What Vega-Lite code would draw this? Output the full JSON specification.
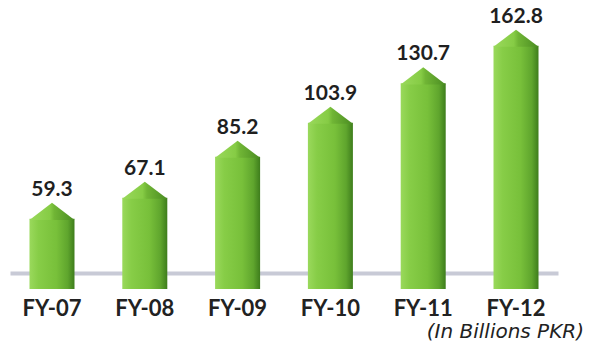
{
  "$schema": "https://vega.github.io/schema/vega-lite/v6.json",
  "width": 548,
  "height": 289,
  "autosize": {"type": "none"},
  "padding": {"left": 10, "top": 0, "right": 31, "bottom": 59},
  "background": "white",
  "config": {"view": {"stroke": null}, "font": "Lato"},
  "data": {
    "values": [
      {"year": "FY-07", "value": 59.3},
      {"year": "FY-08", "value": 67.1},
      {"year": "FY-09", "value": 85.2},
      {"year": "FY-10", "value": 103.9},
      {"year": "FY-11", "value": 130.7},
      {"year": "FY-12", "value": 162.8}
    ]
  },
  "title": {
    "text": "(In Billions PKR)",
    "orient": "bottom",
    "anchor": "end",
    "font": "DejaVu Sans",
    "fontStyle": "italic",
    "fontWeight": "normal",
    "fontSize": 20,
    "color": "#222222",
    "offset": 3,
    "dx": 26
  },
  "layer": [
    {
      "mark": {
        "type": "bar",
        "yOffset": 16,
        "color": {
          "gradient": "linear", "x1": 0, "x2": 1, "y1": 0, "y2": 0,
          "stops": [
            {"offset": 0, "color": "#9ad95c"},
            {"offset": 0.2, "color": "#87cd47"},
            {"offset": 0.6, "color": "#78c03a"},
            {"offset": 0.85, "color": "#5fa52d"},
            {"offset": 1, "color": "#3e7d1c"}
          ]
        }
      },
      "encoding": {
        "x": {"field": "year", "type": "nominal", "sort": null,
              "scale": {"range": [0, 548], "paddingInner": 0.515, "paddingOuter": 0.21},
              "axis": {"title": null, "ticks": false, "labelAngle": 0,
                       "offset": -16, "zindex": 0,
                       "domain": true, "domainColor": "#c8cad6", "domainWidth": 4,
                       "labelFont": "Lato", "labelFontSize": 22, "labelFontWeight": "bold",
                       "labelColor": "#222222", "labelPadding": 25}},
        "y": {"field": "value", "type": "quantitative", "axis": null,
              "scale": {"type": "log", "domain": [35.87, 193.6], "nice": false, "zero": false}},
        "y2": {"datum": 35.87}
      }
    },
    {
      "mark": {
        "type": "point",
        "filled": true,
        "opacity": 1,
        "strokeWidth": 0,
        "shape": "M-1,0.76L0,0L1,0.76Z",
        "size": 2025,
        "color": {
          "gradient": "linear", "x1": 0, "x2": 1, "y1": 0, "y2": 0,
          "stops": [
            {"offset": 0, "color": "#9ad95c"},
            {"offset": 0.45, "color": "#86cc45"},
            {"offset": 0.55, "color": "#70b535"},
            {"offset": 1, "color": "#4a8c22"}
          ]
        }
      },
      "encoding": {
        "x": {"field": "year", "type": "nominal", "sort": null},
        "y": {"field": "value", "type": "quantitative"}
      }
    },
    {
      "mark": {"type": "text", "dy": -7, "baseline": "alphabetic", "font": "Lato",
               "fontSize": 21, "fontWeight": "bold", "color": "#1f1f1f"},
      "encoding": {
        "x": {"field": "year", "type": "nominal", "sort": null},
        "y": {"field": "value", "type": "quantitative"},
        "text": {"field": "value", "type": "quantitative", "format": ".1f"}
      }
    }
  ]
}
